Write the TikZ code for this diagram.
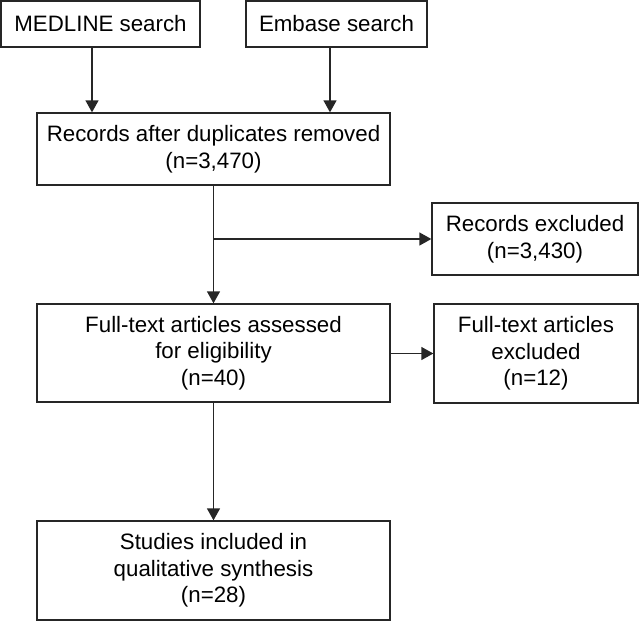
\documentclass[tikz,border=0pt]{standalone}
\usepackage{fontspec}
\setmainfont{Liberation Sans}
\usetikzlibrary{arrows.meta}
\begin{document}
\begin{tikzpicture}[x=1pt,y=-1pt,
  box/.style={draw=black!85,line width=1.3pt,rectangle,inner sep=0pt,align=center,
    font=\fontsize{22.3}{26.7}\selectfont},
  arr/.style={draw=black!85,line width=1.3pt,-{Triangle[width=13pt,length=12pt]}},
  ln/.style={draw=black!85,line width=1.3pt}]
\useasboundingbox (0,0) rectangle (639,621);
\node[box,minimum width=199pt,minimum height=46pt] (med) at (100.5,24) {MEDLINE search};
\node[box,minimum width=181pt,minimum height=46pt] (emb) at (336.5,24) {Embase search};
\node[box,minimum width=353pt,minimum height=72pt] (rec) at (213.5,149) {Records after duplicates removed\\(n=3,470)};
\node[box,minimum width=206pt,minimum height=72pt] (rex) at (535,239) {Records excluded\\(n=3,430)};
\node[box,minimum width=353pt,minimum height=98pt] (ft) at (213.5,353) {Full-text articles assessed\\for eligibility\\(n=40)};
\node[box,minimum width=204pt,minimum height=99pt] (fex) at (536,353.5) {Full-text articles\\excluded\\(n=12)};
\node[box,minimum width=353pt,minimum height=99pt] (stu) at (213.5,570.5) {Studies included in\\qualitative synthesis\\(n=28)};
\coordinate (br) at (rec.south |- rex.west);
\draw[arr] (med.south -| 92,0) -- (rec.north -| 92,0);
\draw[arr] (emb.south -| 330,0) -- (rec.north -| 330,0);
\draw[arr] (rec.south) -- (ft.north);
\draw[arr] (br) -- (rex.west);
\draw[arr] (ft.east |- fex.west) -- (fex.west);
\draw[arr] (ft.south) -- (stu.north);
\end{tikzpicture}
\end{document}
